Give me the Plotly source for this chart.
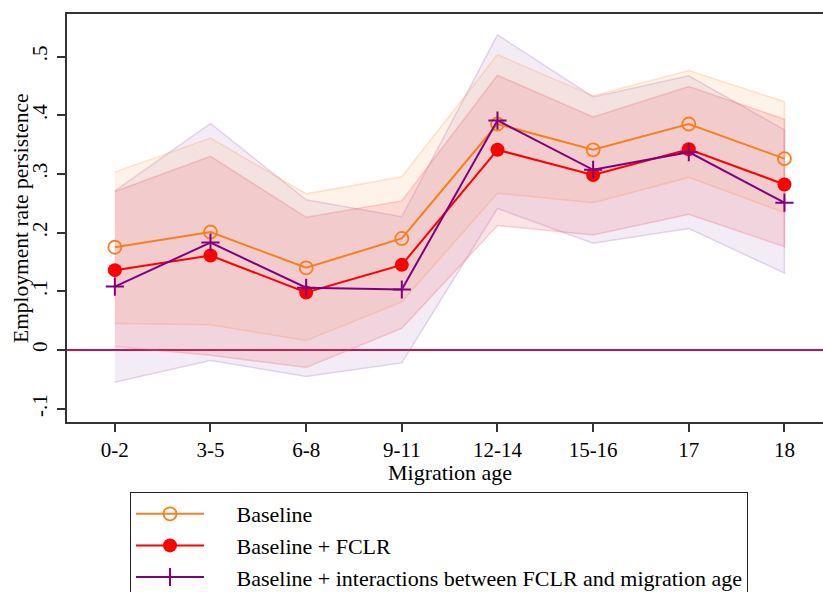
import plotly.graph_objects as go

ages = ["0-2", "3-5", "6-8", "9-11", "12-14", "15-16", "17", "18"]

base = [0.175, 0.201, 0.140, 0.190, 0.385, 0.341, 0.385, 0.326]
base_lo = [0.045, 0.043, 0.016, 0.082, 0.267, 0.251, 0.294, 0.234]
base_hi = [0.303, 0.361, 0.266, 0.295, 0.503, 0.433, 0.476, 0.423]

fclr = [0.136, 0.161, 0.098, 0.145, 0.341, 0.298, 0.342, 0.282]
fclr_lo = [0.006, -0.009, -0.030, 0.037, 0.212, 0.196, 0.231, 0.176]
fclr_hi = [0.270, 0.330, 0.226, 0.254, 0.468, 0.397, 0.449, 0.393]

inter = [0.108, 0.183, 0.106, 0.103, 0.391, 0.307, 0.337, 0.251]
inter_lo = [-0.055, -0.018, -0.045, -0.022, 0.241, 0.182, 0.207, 0.131]
inter_hi = [0.271, 0.386, 0.256, 0.227, 0.537, 0.431, 0.467, 0.375]

yticks = [-0.1, 0, 0.1, 0.2, 0.3, 0.4, 0.5]
yticklabels = ["-.1", "0", ".1", ".2", ".3", ".4", ".5"]

series_names = [
    "Baseline",
    "Baseline + FCLR",
    "Baseline + interactions between FCLR and migration age",
]
x_title = "Migration age"
y_title = "Employment rate persistence"

FONT = "Liberation Serif"
ORANGE = "#f7801f"
RED = "#ff0000"
PURPLE = "#800080"
GAP = "\u2003\u00a0"

fig = go.Figure()

bands = [
    (inter_lo, inter_hi, "rgba(150,80,170,0.11)", "rgba(150,80,170,0.22)"),
    (base_lo, base_hi, "rgba(255,160,70,0.12)", "rgba(255,150,70,0.25)"),
    (fclr_lo, fclr_hi, "rgba(235,90,100,0.16)", "rgba(235,90,100,0.25)"),
]
for lo, hi, fillc, linec in bands:
    fig.add_trace(go.Scatter(
        x=ages + ages[::-1], y=hi + lo[::-1], fill="toself",
        fillcolor=fillc, line=dict(color=linec, width=1.5),
        mode="lines", showlegend=False, hoverinfo="skip"))

fig.add_trace(go.Scatter(
    x=ages, y=base, mode="lines+markers", name=GAP + series_names[0],
    line=dict(color=ORANGE, width=2),
    marker=dict(symbol="circle-open", size=13, color=ORANGE, line=dict(width=1.8, color=ORANGE))))
fig.add_trace(go.Scatter(
    x=ages, y=fclr, mode="lines+markers", name=GAP + series_names[1],
    line=dict(color=RED, width=2),
    marker=dict(symbol="circle", size=14, color=RED)))
fig.add_trace(go.Scatter(
    x=ages, y=inter, mode="lines+markers", name=GAP + series_names[2],
    line=dict(color=PURPLE, width=2),
    marker=dict(symbol="cross-thin", size=13, color=PURPLE, line=dict(width=2, color=PURPLE))))

fig.update_layout(
    width=823, height=592,
    margin=dict(l=67, r=0, t=14, b=170, autoexpand=False),
    paper_bgcolor="white", plot_bgcolor="white",
    font=dict(family=FONT, size=21, color="black"),
    legend=dict(
        xref="container", yref="container",
        x=130 / 823, y=1 - 492 / 592, xanchor="left", yanchor="top",
        bordercolor="#222", borderwidth=1, bgcolor="white",
        font=dict(family=FONT, size=22), itemwidth=68,
        tracegroupgap=0,
    ),
    annotations=[
        dict(text=y_title, xref="paper", yref="paper", x=(21 - 67) / 756, y=0.5,
             xanchor="center", yanchor="middle", textangle=-90, showarrow=False,
             font=dict(family=FONT, size=21.5)),
        dict(text=x_title, xref="paper", yref="paper", x=(450 - 67) / 756, y=-(472 - 422) / 408,
             xanchor="center", yanchor="middle", showarrow=False,
             font=dict(family=FONT, size=22)),
    ],
)
fig.update_xaxes(
    type="category", range=[-0.5, 7.403],
    showline=True, linecolor="#333", linewidth=2, mirror=True,
    ticks="outside", ticklen=8, tickwidth=1.5, tickcolor="#333",
    showgrid=False, tickfont=dict(family=FONT, size=21), tickangle=0,
)
fig.update_yaxes(
    range=[-0.1227, 0.5724],
    tickvals=yticks, ticktext=yticklabels, tickangle=-90,
    showline=True, linecolor="#333", linewidth=2,
    ticks="outside", ticklen=8, tickwidth=1.5, tickcolor="#333",
    showgrid=False, zeroline=True, zerolinecolor="#c8104a", zerolinewidth=1.6,
    tickfont=dict(family=FONT, size=21), ticklabelstandoff=2,
)

fig.write_html("out.html")
